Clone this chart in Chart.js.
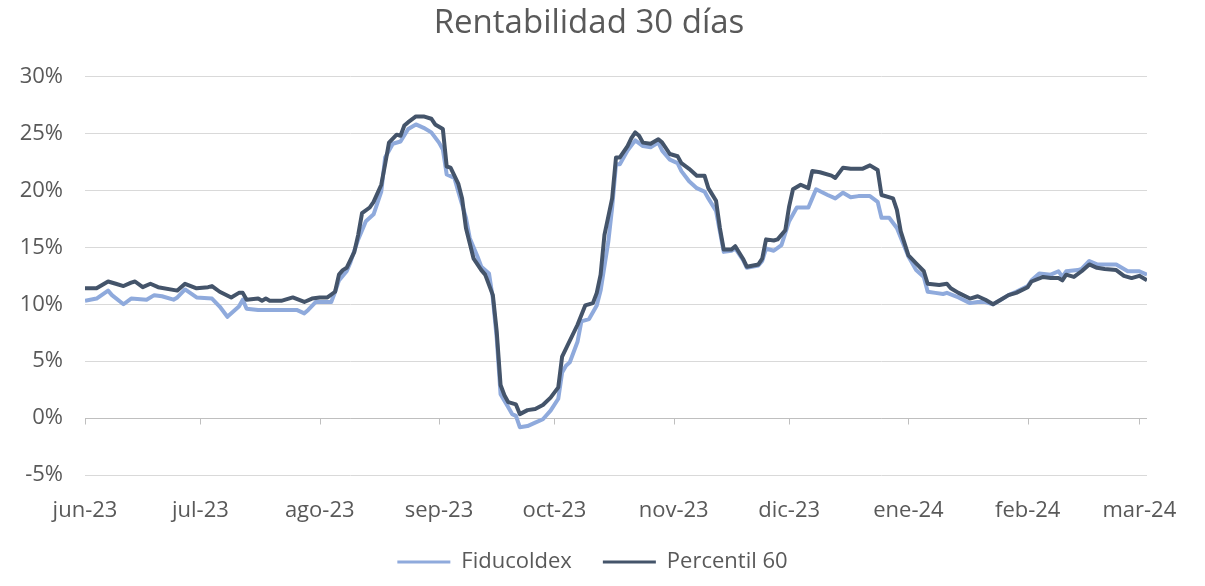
<!DOCTYPE html>
<html>
<head>
<meta charset="utf-8">
<script src="https://cdn.jsdelivr.net/npm/chart.js@4/dist/chart.umd.min.js"></script>
<style>
  html, body { margin: 0; padding: 0; background: #ffffff; }
  #wrap { width: 1205px; height: 586px; }
</style>
</head>
<body>
<div id="wrap"><canvas id="c" width="1205" height="586"></canvas></div>
<script>
// ---- Data (day index = days since 1 jun 2023) ----
const monthLabels = ['jun-23','jul-23','ago-23','sep-23','oct-23','nov-23','dic-23','ene-24','feb-24','mar-24'];
const monthStartDays = [0, 30, 61, 92, 122, 153, 183, 214, 245, 274];
const yTickValues = [-5, 0, 5, 10, 15, 20, 25, 30];

const fidDays = [0,3,6,7,10,12,16,18,20,23,24,26,29,33,35,37,40,41,42,45,49,52,55,57,58,60,64,65,66,68,69,71,73,75,77,78,80,82,84,86,88,90,92,93,94,96,97,99,100,102,103,105,106,107,108,110,111,112,113,115,117,119,121,123,124,125,126,128,129,131,133,134,136,137,138,139,141,143,145,147,149,150,152,154,155,157,159,161,162,164,165,166,168,169,171,172,175,176,177,179,181,183,185,188,189,190,193,195,197,199,201,204,206,207,209,211,214,216,218,219,221,223,224,227,230,232,234,236,238,240,242,245,246,248,251,253,254,255,258,259,261,263,265,268,271,272,274,276];
const fidValues = [10.3,10.5,11.2,10.8,10.0,10.5,10.4,10.8,10.7,10.4,10.6,11.3,10.6,10.5,9.8,8.9,9.8,10.4,9.6,9.5,9.5,9.5,9.5,9.2,9.5,10.2,10.2,11.1,12.1,12.9,13.7,15.7,17.3,17.9,19.9,22.9,24.1,24.3,25.4,25.8,25.5,25.1,24.2,23.6,21.4,21.1,19.9,17.6,15.8,14.2,13.3,12.7,10.5,7.0,2.1,0.95,0.35,0.2,-0.8,-0.7,-0.4,-0.1,0.65,1.7,4.0,4.6,4.9,6.7,8.5,8.7,9.9,11.2,15.5,18.5,22.3,22.3,23.5,24.4,23.9,23.8,24.2,23.5,22.7,22.4,21.7,20.8,20.2,19.9,19.3,18.2,16.4,14.6,14.7,14.9,13.9,13.2,13.4,13.8,14.9,14.7,15.2,17.3,18.5,18.5,19.3,20.1,19.6,19.3,19.8,19.4,19.5,19.5,19.0,17.6,17.6,16.7,14.2,13.0,12.4,11.1,11.0,10.9,11.0,10.6,10.1,10.2,10.2,10.0,10.4,10.8,11.1,11.6,12.1,12.7,12.6,12.9,12.4,12.9,13.0,13.1,13.8,13.5,13.5,13.5,12.9,12.9,12.9,12.6];

const p60Days = [0,3,6,8,10,12,13,15,17,19,24,26,29,32,33,35,38,40,41,42,45,46,47,48,51,54,57,59,61,63,65,66,67,68,70,71,72,74,75,77,78,79,81,82,83,84,86,88,90,91,93,94,95,97,98,99,101,103,104,106,107,108,109,110,112,113,115,117,119,121,123,124,125,128,130,132,133,134,135,137,138,139,141,142,143,144,145,147,149,150,152,154,155,157,159,161,162,164,165,166,168,169,171,172,175,176,177,179,180,182,183,184,186,188,189,191,194,195,197,199,202,204,206,207,210,211,212,214,216,218,219,222,224,225,227,230,232,234,236,238,240,242,245,246,249,251,253,254,255,257,259,261,263,265,268,270,272,274,276];
const p60Values = [11.4,11.4,12.0,11.8,11.6,11.9,12.0,11.5,11.8,11.5,11.2,11.8,11.4,11.5,11.6,11.1,10.6,11.0,11.0,10.4,10.5,10.3,10.5,10.3,10.3,10.6,10.2,10.5,10.6,10.6,11.1,12.6,13.0,13.2,14.6,16.1,18.0,18.5,19.0,20.5,22.3,24.2,24.9,24.8,25.7,26.0,26.5,26.5,26.3,25.8,25.4,22.1,22.0,20.6,19.3,16.7,14.0,13.0,12.6,10.8,7.6,2.9,2.0,1.4,1.2,0.35,0.7,0.8,1.15,1.8,2.7,5.4,6.1,8.2,9.9,10.1,11.0,12.6,16.1,19.3,22.9,22.9,23.9,24.6,25.1,24.8,24.2,24.1,24.5,24.2,23.2,23.0,22.4,21.9,21.3,21.3,20.2,19.1,16.7,14.8,14.8,15.1,14.0,13.3,13.5,14.0,15.7,15.6,15.7,16.5,18.6,20.1,20.5,20.2,21.7,21.6,21.3,21.1,22.0,21.9,21.9,22.2,21.8,19.6,19.3,18.3,16.4,14.3,13.6,12.9,11.8,11.7,11.8,11.4,11.0,10.5,10.7,10.4,10.0,10.4,10.8,11.0,11.5,12.0,12.4,12.3,12.3,12.1,12.6,12.4,12.9,13.5,13.2,13.1,13.0,12.5,12.3,12.5,12.1];

const toPoints = (xs, ys) => xs.map((d, i) => ({ x: d, y: ys[i] }));

const FONT = "'Open Sans', 'Liberation Sans', sans-serif";
const TEXT = '#595959';

const monthTickMarks = {
  id: 'monthTickMarks',
  afterLayout(chart) {
    // centre title and legend like the original (slightly right of canvas centre)
    if (chart.titleBlock) { chart.titleBlock.left = 32; chart.titleBlock.right = 1146; }
    if (chart.legend) {
      const h = chart.legend.bottom - chart.legend.top;
      chart.legend.left = 38; chart.legend.right = 1147;
      chart.legend.top = chart.chartArea.bottom + 45;
      chart.legend.bottom = chart.legend.top + h;
    }
  },
  beforeDatasetsDraw(chart) {
    const { ctx, scales: { x, y } } = chart;
    const y0 = Math.round(y.getPixelForValue(0)) + 0.5;
    ctx.save();
    ctx.strokeStyle = '#bfbfbf';
    ctx.lineWidth = 1;
    ctx.beginPath();
    ctx.moveTo(x.left, y0);
    ctx.lineTo(x.right, y0);
    x.ticks.forEach(t => {
      const px = Math.round(x.getPixelForValue(t.value)) + 0.5;
      ctx.moveTo(px, y0);
      ctx.lineTo(px, y0 + 6);
    });
    ctx.stroke();
    ctx.restore();
  }
};

new Chart(document.getElementById('c'), {
  type: 'line',
  data: {
    datasets: [
      {
        label: 'Fiducoldex',
        data: toPoints(fidDays, fidValues),
        borderColor: '#8faadc',
        backgroundColor: '#8faadc',
        borderWidth: 4,
        pointRadius: 0,
        tension: 0,
        borderJoinStyle: 'round',
        order: 1
      },
      {
        label: 'Percentil 60',
        data: toPoints(p60Days, p60Values),
        borderColor: '#44546a',
        backgroundColor: '#44546a',
        borderWidth: 4,
        pointRadius: 0,
        tension: 0,
        borderJoinStyle: 'round',
        order: 0
      }
    ]
  },
  options: {
    responsive: false,
    animation: false,
    layout: { padding: { left: 0, right: 58, top: 0, bottom: -8 } },
    plugins: {
      tooltip: { enabled: false },
      title: {
        display: true,
        text: 'Rentabilidad 30 días',
        color: TEXT,
        font: { family: FONT, size: 33, weight: 'normal' },
        padding: { top: 4, bottom: 33 }
      },
      legend: {
        position: 'bottom',
        labels: {
          color: TEXT,
          font: { family: FONT, size: 22 },
          boxWidth: 53,
          boxHeight: 3,
          padding: 31,
          sort: (a, b) => a.datasetIndex - b.datasetIndex,
          generateLabels(chart) {
            return chart.data.datasets.map((ds, i) => ({
              text: ds.label,
              fillStyle: ds.borderColor,
              strokeStyle: ds.borderColor,
              lineWidth: 0,
              fontColor: TEXT,
              hidden: false,
              datasetIndex: i
            }));
          }
        }
      }
    },
    scales: {
      x: {
        type: 'linear',
        min: 0,
        max: 276,
        afterBuildTicks(scale) {
          scale.ticks = monthStartDays.map(v => ({ value: v }));
        },
        afterFit(scale) { scale.height = 56; },
        ticks: {
          autoSkip: false,
          maxRotation: 0,
          color: TEXT,
          font: { family: FONT, size: 22 },
          padding: 23,
          callback(value) {
            const i = monthStartDays.indexOf(value);
            return i >= 0 ? monthLabels[i] : '';
          }
        },
        grid: { display: false, drawTicks: false },
        border: { display: false }
      },
      y: {
        min: -5,
        max: 30,
        afterBuildTicks(scale) {
          scale.ticks = yTickValues.map(v => ({ value: v }));
        },
        afterFit(scale) { scale.width = 85; },
        ticks: {
          color: TEXT,
          font: { family: FONT, size: 22 },
          padding: 22,
          callback: v => v + '%'
        },
        grid: { color: '#d9d9d9', lineWidth: 1, drawTicks: false },
        border: { display: false }
      }
    }
  },
  plugins: [monthTickMarks]
});
</script>
</body>
</html>
